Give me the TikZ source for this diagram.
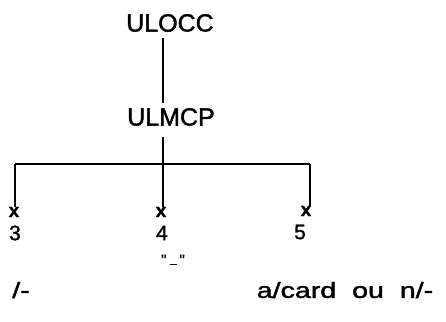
\documentclass[tikz,border=0pt]{standalone}
\usepackage{fontspec}
\setmainfont{Liberation Sans}[FakeBold=1.2]
\newfontfamily\heavy{Liberation Sans}[FakeBold=1.5]
\tikzset{
  lbl/.style={inner sep=0pt, anchor=center, text=black},
  big/.style={lbl, font=\heavy\fontsize{25}{30}\selectfont},
  num/.style={lbl, font=\heavy\fontsize{21}{25}\selectfont},
  xmark/.style={lbl, font=\bfseries\fontsize{19}{22}\selectfont},
  wide/.style={lbl, font=\heavy\fontsize{22}{26}\selectfont, xscale=1.3, transform shape},
  stem/.style={line width=2.4pt},
  bar/.style={line width=1.6pt}
}
\begin{document}
\begin{tikzpicture}[x=1pt,y=-1pt]
\useasboundingbox (0,0) rectangle (446,321);
\node[big] (ulocc) at (170,23) {ULOCC};
\node[big] (ulmcp) at (171,117) {ULMCP};
\coordinate (j) at (163,164);
\coordinate (jl) at (15,164);
\coordinate (jr) at (310,164);
\node[xmark] (x3) at (14,212) {x};
\node[xmark] (x4) at (161,212) {x};
\node[xmark] (x5) at (306,211) {x};
\node[num] (n3) at (15,233) {3};
\node[num] (n4) at (162,233) {4};
\node[num] (n5) at (300,232) {5};
\node[lbl, font=\heavy\fontsize{15}{18}\selectfont] (q) at (173,260) {"\hspace{3pt}\rule{7pt}{1.3pt}\hspace{3pt}"};
\node[wide] (l1) at (21,290) {/-};
\node[wide] (l2) at (345,290) {a/card\ \ ou\ \ n/-};
\draw[stem] (163,38) -- (163,103);
\draw[stem] (163,137) -- (j);
\draw[bar] (jl) -- (jr);
\draw[stem] (jl) -- (x3.north -| jl);
\draw[stem] (j) -- (x4.north -| j);
\draw[stem] (jr) -- (x5.north -| jr);
\end{tikzpicture}
\end{document}
